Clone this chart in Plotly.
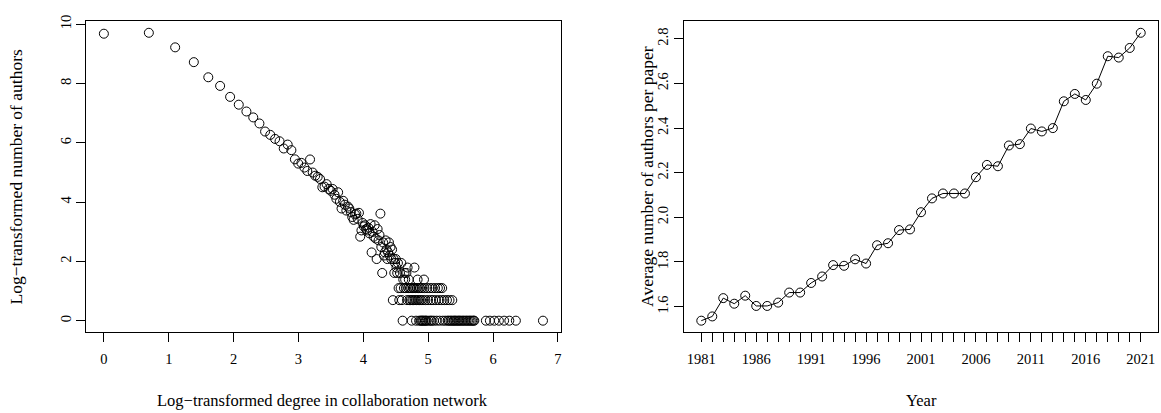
import numpy as np
import plotly.graph_objects as go

# ---- left panel: degree distribution of the collaboration network ----
degree = [
    1, 2, 3, 4, 5, 6, 7, 8, 9, 10, 11, 12, 13, 14, 15, 16, 17, 18, 19, 20,
    21, 22, 23, 24, 25, 26, 27, 28, 29, 30, 31, 32, 33, 34, 35, 36, 37, 38, 39, 40,
    41, 42, 43, 44, 45, 46, 47, 48, 49, 50, 51, 52, 53, 54, 55, 56, 57, 58, 59, 60,
    61, 62, 63, 64, 65, 66, 67, 68, 69, 70, 71, 72, 73, 74, 75, 76, 77, 78, 79, 80,
    81, 82, 83, 84, 85, 86, 87, 88, 89, 90, 91, 92, 93, 94, 95, 96, 97, 98, 99, 100,
    101, 102, 103, 104, 105, 106, 107, 108, 109, 110, 111, 112, 113, 114, 115, 116,
    117, 118, 119, 120, 121, 122, 123, 124, 125, 126, 127, 128, 129, 130, 131, 132,
    133, 134, 135, 136, 137, 138, 139, 140, 141, 142, 143, 145, 146, 148, 150, 152,
    154, 155, 157, 158, 160, 162, 165, 167, 169, 172, 175, 177, 178, 183, 184, 186,
    190, 193, 198, 200, 204, 206, 209, 213, 215, 218, 222, 226, 231, 236, 240, 245,
    251, 256, 262, 268, 274, 280, 286, 292, 298, 302, 361, 384, 411, 441, 478, 518,
    573, 870,
]
n_authors = [
    16000, 16500, 10100, 6130, 3680, 2750, 1900, 1460, 1160, 950, 775, 590, 527, 460, 425, 333, 380, 315, 231, 200,
    205, 175, 156, 230, 148, 133, 128, 119, 90, 92, 100, 85, 80, 85, 70, 61, 76, 55, 44, 57,
    50, 41, 47, 44, 39, 33, 30, 36, 37, 31, 38, 17, 21, 27, 24, 25, 22, 21, 23, 19,
    26, 10, 20, 17, 25, 16, 8, 22, 15, 18, 37, 12, 5, 14, 9, 10, 15, 11, 8, 10,
    14, 9, 12, 8, 11, 2, 8, 5, 7, 8, 6, 5, 7, 3, 2, 5, 3, 7, 2, 1,
    4, 3, 5, 4, 3, 5, 2, 6, 3, 4, 2, 3, 2, 3, 1, 2,
    3, 2, 3, 6, 2, 3, 1, 2, 3, 4, 2, 3, 1, 2, 3, 1,
    2, 1, 3, 1, 2, 1, 4, 3, 1, 2, 1, 1, 3, 2, 1, 3,
    1, 2, 1, 3, 2, 1, 3, 2, 1, 3, 2, 1, 3, 2, 3, 1,
    2, 1, 2, 1, 1, 2, 1, 1, 2, 1, 1, 1, 1, 1, 1, 1,
    1, 1, 1, 1, 1, 1, 1, 1, 1, 1, 1, 1, 1, 1, 1, 1,
    1, 1,
]

# ---- right panel: average number of authors per paper ----
years = list(range(1981, 2022))
avg_authors = [
    1.537, 1.556, 1.638, 1.613, 1.649, 1.603, 1.603, 1.618, 1.663, 1.663,
    1.706, 1.735, 1.786, 1.783, 1.812, 1.793, 1.875, 1.884, 1.943, 1.946,
    2.023, 2.085, 2.107, 2.107, 2.107, 2.180, 2.235, 2.229, 2.322, 2.328,
    2.398, 2.385, 2.400, 2.520, 2.553, 2.526, 2.599, 2.722, 2.716, 2.759,
    2.827,
]

FONT = "Liberation Serif"
W, H = 1161, 413

log_deg = np.log(degree)
log_n = np.log(n_authors)


def r_range(v):
    # R's default 4% axis padding
    lo, hi = float(np.min(v)), float(np.max(v))
    pad = (hi - lo) * 0.04
    return [lo - pad, hi + pad]


def ax(**kw):
    d = dict(
        showline=True, mirror=True, linecolor="black", linewidth=1,
        ticks="outside", ticklen=9, tickwidth=1, tickcolor="black",
        showgrid=False, zeroline=False,
        tickfont=dict(family=FONT, size=14.5, color="black"),
    )
    d.update(kw)
    return d


def label(text, x, y, angle=0, size=16.5):
    return dict(text=text, x=x / W, y=(H - y) / H, xref="paper", yref="paper",
                xanchor="center", yanchor="middle", textangle=angle,
                showarrow=False, font=dict(family=FONT, size=size, color="black"))


fig = go.Figure()
fig.add_trace(go.Scatter(
    x=log_deg, y=log_n, mode="markers",
    marker=dict(symbol="circle-open", size=9, color="black", line=dict(width=1)),
    xaxis="x", yaxis="y", showlegend=False,
))
fig.add_trace(go.Scatter(
    x=years, y=avg_authors, mode="lines+markers",
    line=dict(color="black", width=1),
    marker=dict(symbol="circle-open", size=9, color="black", line=dict(width=1)),
    xaxis="x2", yaxis="y2", showlegend=False,
))

y_dom = [(H - 331) / H, (H - 15.5) / H]
fig.update_layout(
    width=W, height=H,
    margin=dict(l=0, r=0, t=0, b=0),
    paper_bgcolor="white", plot_bgcolor="white",
    font=dict(family=FONT, size=15, color="black"),
    xaxis=ax(domain=[86.4 / W, 561 / W], range=r_range(log_deg),
             tickvals=list(range(0, 8)), ticklabelstandoff=4, anchor="y"),
    yaxis=ax(domain=y_dom, range=r_range(log_n),
             tickvals=[0, 2, 4, 6, 8, 10], tickangle=-90, anchor="x"),
    xaxis2=ax(domain=[684.3 / W, 1159.3 / W], range=r_range(years),
              tickvals=years,
              ticktext=[str(y) if (y - 1981) % 5 == 0 else "" for y in years],
              tickangle=0, ticklabelstandoff=4, anchor="y2"),
    yaxis2=ax(domain=y_dom, range=r_range(avg_authors),
              tickvals=[1.6, 1.8, 2.0, 2.2, 2.4, 2.6, 2.8], tickformat=".1f",
              tickangle=-90, anchor="x2"),
    annotations=[
        label("Log\u2212transformed degree in collaboration network", 323, 400),
        label("Year", 922, 400),
        label("Log\u2212transformed number of authors", 17, 173, -90, 17.5),
        label("Average number of authors per paper", 648, 173, -90, 17.5),
    ],
)

fig.write_html("out.html", config={"displayModeBar": False},
               post_script="document.body.style.margin='0';")
